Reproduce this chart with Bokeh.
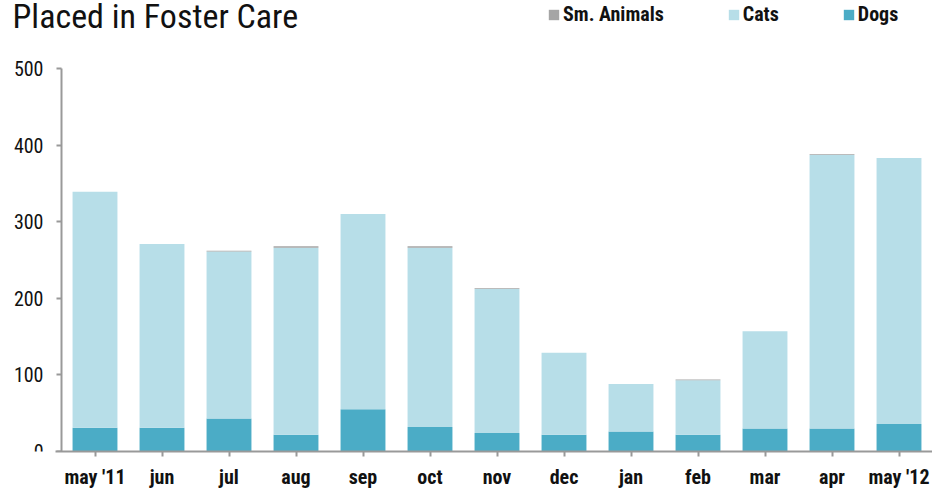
import subprocess
from bokeh.plotting import figure
from bokeh.models import Range1d, Legend, LegendItem, FixedTicker, Label, LinearAxis
from bokeh.embed import file_html
from bokeh.resources import INLINE

months = ["may '11", "jun", "jul", "aug", "sep", "oct", "nov", "dec",
          "jan", "feb", "mar", "apr", "may '12"]
dogs = [31, 31, 43, 22, 55, 32, 24, 22, 26, 22, 30, 30, 36]
cats = [308, 240, 218, 244, 255, 234, 188, 107, 62, 71, 127, 357, 347]
sm_animals = [0, 0, 1, 2, 0, 2, 1, 0, 0, 1, 0, 1, 0]
y_ticks = [0, 100, 200, 300, 400, 500]
title_text = "Placed in Foster Care"


def pick_font(prefs, default):
    try:
        out = subprocess.run(["fc-list", ":", "family"], capture_output=True,
                             text=True, timeout=20).stdout
        fams = set()
        for line in out.splitlines():
            for f in line.split(","):
                fams.add(f.strip())
        for f in prefs:
            if f in fams:
                return f
    except Exception:
        pass
    return default


FONT = pick_font(["Roboto Condensed", "Liberation Sans Narrow",
                  "DejaVu Sans Condensed", "Noto Sans Condensed"], "Roboto")
COL_DOGS = "#4BACC6"
COL_CATS = "#B7DEE8"
COL_SM = "#A5A5A5"
AXIS_COL = "#999999"
TEXT_COL = "#111111"

xs = list(range(len(months)))
data = dict(x=xs, Dogs=dogs, Cats=cats, Sm=sm_animals)

W, H = 932, 491
FRAME_BOTTOM = 451          # pixel row of the zero line
PX_PER_BAND = 67
FIRST_EDGE = 61             # pixel column of the y axis
PX_PER_UNIT = 383 / 500

x_start = -0.5 - FIRST_EDGE / PX_PER_BAND
x_end = x_start + W / PX_PER_BAND
y_end = FRAME_BOTTOM / PX_PER_UNIT

p = figure(x_range=Range1d(x_start, x_end), y_range=Range1d(0, y_end),
           width=W, height=H, output_backend="svg", toolbar_location=None,
           x_axis_location=None, y_axis_location=None,
           min_border_left=0, min_border_right=0, min_border_top=0,
           min_border_bottom=H - FRAME_BOTTOM)

r = p.vbar_stack(["Dogs", "Cats", "Sm"], x="x", width=0.67,
                 color=[COL_DOGS, COL_CATS, COL_SM], line_color=None,
                 source=data)

p.outline_line_color = None
p.background_fill_color = "white"
p.border_fill_color = "white"
p.xgrid.grid_line_color = None
p.ygrid.grid_line_color = None


def style(ax):
    ax.axis_line_color = AXIS_COL
    ax.axis_line_width = 2
    ax.major_tick_line_color = AXIS_COL
    ax.major_tick_line_width = 2
    ax.major_tick_in = 0
    ax.major_tick_out = 5
    ax.minor_tick_line_color = None
    ax.major_label_text_font = FONT
    ax.major_label_text_font_size = "20px"
    ax.major_label_text_color = TEXT_COL


xaxis = LinearAxis(ticker=FixedTicker(ticks=xs),
                   major_label_overrides={i: m for i, m in zip(xs, months)},
                   bounds=(-0.5 - 6 / PX_PER_BAND, x_end))
style(xaxis)
xaxis.major_label_standoff = 8
xaxis.major_label_text_font_style = "bold"
p.add_layout(xaxis, "below")

yaxis = LinearAxis(ticker=FixedTicker(ticks=y_ticks), fixed_location=-0.5,
                   bounds=(0, 500))
style(yaxis)
yaxis.major_label_standoff = 13
p.add_layout(yaxis, "left")

legend = Legend(items=[LegendItem(label="Sm. Animals", renderers=[r[2]]),
                       LegendItem(label="Cats", renderers=[r[1]]),
                       LegendItem(label="Dogs", renderers=[r[0]])],
                orientation="horizontal", location=(547, 425),
                padding=0, margin=0, spacing=63, glyph_width=13, glyph_height=13,
                label_standoff=3, label_text_font=FONT, label_text_font_style="bold",
                label_text_font_size="20px", label_height=16,
                label_text_color=TEXT_COL,
                background_fill_alpha=0, border_line_color=None)
p.add_layout(legend, "center")

title = Label(x=x_start + 12 / PX_PER_BAND, y=(FRAME_BOTTOM - 15) / PX_PER_UNIT,
              text=title_text, text_font=FONT, text_font_size="34px",
              text_color=TEXT_COL, text_baseline="alphabetic")
p.add_layout(title)

open("out.html", "w").write(file_html(p, INLINE))
